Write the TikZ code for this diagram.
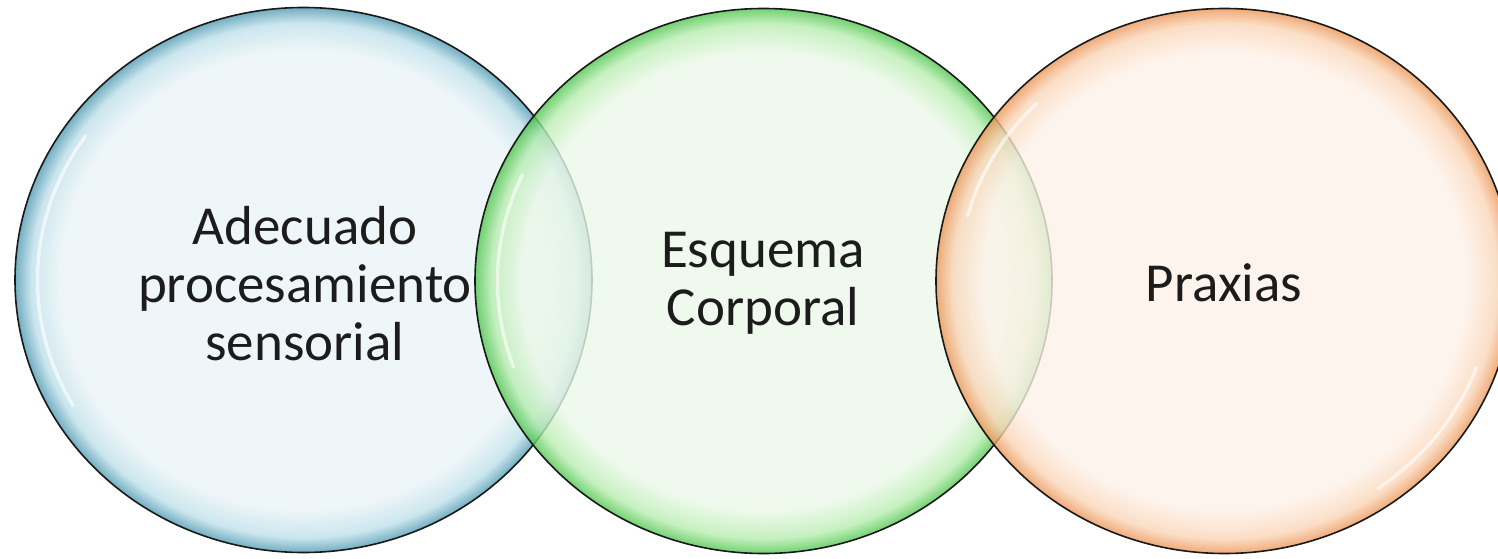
\documentclass[tikz,border=0pt]{standalone}
\usepackage{fontspec}
\setmainfont{Carlito}
\usetikzlibrary{shapes.geometric}
\definecolor{bIn}{HTML}{EBF4F7}
\definecolor{bMid}{HTML}{BFE0EA}
\definecolor{bRim}{HTML}{4F9AB2}
\definecolor{gIn}{HTML}{EBF8E8}
\definecolor{gMid}{HTML}{B8EDB0}
\definecolor{gRim}{HTML}{4FC64F}
\definecolor{oIn}{HTML}{FDF1E8}
\definecolor{oMid}{HTML}{FAD6B8}
\definecolor{oRim}{HTML}{EC9657}
\definecolor{txt}{HTML}{1C1C1C}
\pgfdeclareradialshading{blueball}{\pgfpoint{0bp}{0bp}}{color(0bp)=(bIn); color(21bp)=(bIn); color(23.6bp)=(bMid); color(25bp)=(bRim); color(50bp)=(bRim)}
\pgfdeclareradialshading{greenball}{\pgfpoint{0bp}{0bp}}{color(0bp)=(gIn); color(21bp)=(gIn); color(23.6bp)=(gMid); color(25bp)=(gRim); color(50bp)=(gRim)}
\pgfdeclareradialshading{orangeball}{\pgfpoint{0bp}{0bp}}{color(0bp)=(oIn); color(21bp)=(oIn); color(23.6bp)=(oMid); color(25bp)=(oRim); color(50bp)=(oRim)}
\tikzset{
  bubble/.style={ellipse, inner sep=0pt, outer sep=0pt, minimum width=577pt, minimum height=545pt,
    draw=black!90, line width=1.6pt, fill opacity=0.8, draw opacity=1},
  hl/.style={white, line width=3.5pt, opacity=0.6, line cap=round},
  label/.style={text=txt, align=center, font=\fontsize{55}{58}\selectfont, inner sep=0pt}
}
\begin{document}
\begin{tikzpicture}[x=1pt,y=-1pt]
\useasboundingbox (0,0) rectangle (1498,559);
\node[bubble, shade, shading=blueball] (c1) at (303.5,280) {};
\draw[hl] ([shift={(150:266 and 251)}]c1.center) arc[start angle=150, end angle=215, x radius=266, y radius=251];
\node[bubble, shade, shading=greenball] (c2) at (763.5,281) {};
\draw[hl] ([shift={(160:266 and 251)}]c2.center) arc[start angle=160, end angle=205, x radius=266, y radius=251];
\node[bubble, shade, shading=orangeball] (c3) at (1224.5,281) {};
\draw[hl] ([shift={(195:266 and 251)}]c3.center) arc[start angle=195, end angle=225, x radius=266, y radius=251];
\draw[hl] ([shift={(20:268 and 253)}]c3.center) arc[start angle=20, end angle=55, x radius=268, y radius=253];
\node[label] (t1) at (305,284) {Adecuado\\procesamiento\\sensorial};
\node[label] (t2) at (763,283) {Esquema\\Corporal};
\node[label] (t3) at (1224,283) {Praxias};
\end{tikzpicture}
\end{document}
